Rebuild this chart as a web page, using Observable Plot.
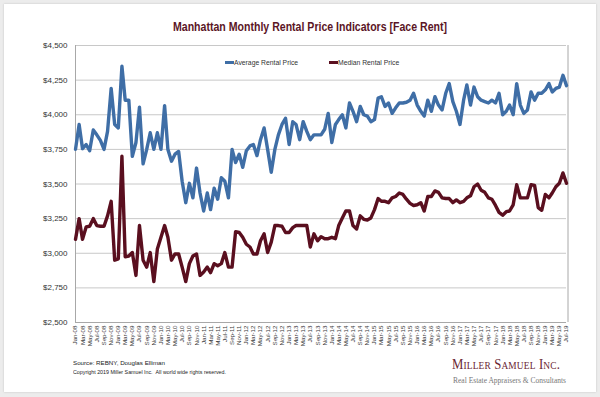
<!DOCTYPE html>
<html>
<head>
<meta charset="utf-8">
<script src="https://cdn.jsdelivr.net/npm/d3@7"></script>
<script src="https://cdn.jsdelivr.net/npm/@observablehq/plot@0.6"></script>
<style>
  html, body { margin: 0; padding: 0; background: #ececec; }
  #wrap { position: relative; width: 600px; height: 397px; background: #ececec; overflow: hidden;
          font-family: Arial, "Liberation Sans", Helvetica, sans-serif; }
  #card { position: absolute; left: 4px; top: 4px; width: 592px; height: 388px; background: #fff;
          box-shadow: 0 0 2px rgba(0,0,0,0.18); }
  #chart { position: absolute; left: 0; top: 0; }
  .fit { position: absolute; white-space: nowrap; transform-origin: 0 0; }
  #title { top: 20px; font-weight: bold; font-size: 12.5px; color: #5b1526; }
  .leg { position: absolute; top: 59px; font-size: 6.8px; color: #333; white-space: nowrap; }
  .leg i { display: inline-block; width: 9px; height: 2.8px; vertical-align: middle; margin-right: 0px; position: relative; top: -0.5px; }
  #src1, #src2 { font-size: 5.6px; color: #222; }
  #logo1 { font-family: "Liberation Serif", "DejaVu Serif", serif; color: #6b2733; font-size: 15px; font-variant: small-caps; letter-spacing: 0.2px; }
  #logo2 { font-family: "Liberation Serif", "DejaVu Serif", serif; color: #777; font-size: 8.6px; }
</style>
</head>
<body>
<div id="wrap">
  <div id="card"></div>
  <div id="chart"></div>
  <div id="title" class="fit">Manhattan Monthly Rental Price Indicators [Face Rent]</div>
  <div class="leg" style="left:225px"><i style="background:#3f6ea6"></i>Average Rental Price</div>
  <div class="leg" style="left:329px"><i style="background:#5a0f1f"></i>Median Rental Price</div>
  <div id="src1" class="fit">Source: REBNY, Douglas Elliman</div>
  <div id="src2" class="fit">Copyright 2019 Miller Samuel Inc.&nbsp;&nbsp;All world wide rights reserved.</div>
  <div id="logo1" class="fit">Miller Samuel Inc.</div>
  <div id="logo2" class="fit">Real Estate Appraisers &amp; Consultants</div>
</div>
<script>
// ---- Data (monthly, Jan-08 .. Jul-19) ----
const startMonth = "2008-01";
const monthCount = 139;

const averageRent = [
  3750, 3930, 3755, 3785, 3740, 3890, 3855, 3815, 3750, 3880,
  4190, 3930, 3905, 4350, 4105, 4105, 3700, 3800, 4055, 3645,
  3750, 3870, 3750, 3870, 3750, 4065, 3750, 3665, 3715, 3735,
  3520, 3365, 3505, 3400, 3615, 3435, 3305, 3435, 3315, 3470,
  3390, 3545, 3520, 3400, 3750, 3655, 3715, 3620, 3740, 3775,
  3785, 3705, 3820, 3905, 3750, 3585, 3750, 3855, 3930, 3975,
  3785, 3950, 3930, 3820, 3950, 3880, 3820, 3855, 3855, 3855,
  3895, 4010, 3800, 3930, 3965, 4000, 3905, 4085, 4025, 3950,
  4060, 4000, 3990, 3950, 3965, 4120, 4130, 4060, 4085, 4010,
  4050, 4085, 4085, 4090, 4105, 4155, 4070, 4025, 3990, 4105,
  4025, 4130, 4070, 4035, 4155, 4225, 4095, 4025, 3930, 4105,
  4215, 4070, 4200, 4130, 4105, 4095, 4085, 4105, 4085, 4155,
  4000, 4025, 4070, 4000, 4225, 4070, 4010, 4035, 4165, 4105,
  4155, 4155, 4180, 4225, 4165, 4190, 4200, 4285, 4210
];

const medianRent = [
  3100, 3250, 3100, 3190, 3195, 3250, 3200, 3195, 3195, 3270,
  3375, 2950, 2960, 3700, 2975, 2980, 3005, 2840, 3200, 2950,
  2900, 3005, 2795, 3030, 3115, 3200, 3115, 2950, 2995, 2995,
  2900, 2795, 2925, 2980, 2995, 2840, 2865, 2900, 2860, 2925,
  2910, 2925, 3005, 2900, 2900, 3155, 3150, 3115, 3065, 3045,
  2995, 2995, 3090, 3140, 3005, 3080, 3200, 3200, 3195, 3150,
  3150, 3185, 3200, 3200, 3200, 3200, 3045, 3140, 3090, 3120,
  3105, 3105, 3115, 3105, 3200, 3255, 3305, 3305, 3200, 3175,
  3270, 3245, 3240, 3255, 3315, 3395, 3375, 3375, 3365, 3400,
  3410, 3435, 3425, 3390, 3360, 3345, 3350, 3365, 3305, 3410,
  3410, 3450, 3440, 3400, 3395, 3395, 3365, 3385, 3365, 3375,
  3400, 3415, 3480, 3500, 3455, 3440, 3400, 3390, 3345, 3295,
  3275, 3300, 3305, 3350, 3495, 3400, 3400, 3400, 3495, 3490,
  3330, 3310, 3425, 3400, 3435, 3480, 3505, 3580, 3505
];

const yTicks = [2500, 2750, 3000, 3250, 3500, 3750, 4000, 4250, 4500];
const seriesNames = ["Average Rental Price", "Median Rental Price"];
const seriesColors = ["#3f6ea6", "#5a0f1f"];

// ---- Build table ----
const t0 = d3.utcParse("%Y-%m")(startMonth);
const months = d3.range(monthCount).map(i => d3.utcMonth.offset(t0, i));
const rows = [];
months.forEach((d, i) => {
  rows.push({date: d, value: averageRent[i], series: seriesNames[0]});
  rows.push({date: d, value: medianRent[i], series: seriesNames[1]});
});
const xTicks = months.filter((d, i) => i % 2 === 0);
const last = months[months.length - 1];

const chart = Plot.plot({
  width: 600,
  height: 397,
  marginLeft: 75,
  marginRight: 34,
  marginTop: 45,
  marginBottom: 75,
  style: {background: "transparent", fontFamily: "Arial, 'Liberation Sans', sans-serif", overflow: "visible"},
  x: {type: "utc", domain: [months[0], last]},
  y: {domain: [2500, 4500]},
  color: {domain: seriesNames, range: seriesColors},
  marks: [
    Plot.ruleY(yTicks, {stroke: "#c8c8c8", strokeWidth: 1}),
    Plot.ruleX([months[0]], {stroke: "#a8a8a8", strokeWidth: 1}),
    Plot.ruleX([last], {stroke: "#a8a8a8", strokeWidth: 1, dx: 1.5}),
    Plot.ruleY([2500], {stroke: "#a8a8a8", strokeWidth: 1}),
    Plot.axisY({ticks: yTicks, tickSize: 0, tickPadding: 8, fontSize: 8, fill: "#333",
                tickFormat: d => "$" + d3.format(",")(d), label: null}),
    Plot.axisX({ticks: xTicks, tickSize: 0, tickPadding: 3, tickRotate: -90, fontSize: 6.2, fill: "#3a3a3a",
                tickFormat: d3.utcFormat("%b-%y"), label: null}),
    Plot.lineY(rows, {x: "date", y: "value", z: "series", stroke: "series", strokeWidth: 3.4,
                      strokeLinejoin: "round", strokeLinecap: "round"})
  ]
});
document.getElementById("chart").appendChild(chart);

// ---- Fit overlay texts to their measured spans ----
function place(id, left, top, targetWidth) {
  const el = document.getElementById(id);
  el.style.left = left + "px";
  el.style.top = top + "px";
  const w = el.getBoundingClientRect().width;
  if (targetWidth && w > 0) el.style.transform = `scaleX(${targetWidth / w})`;
}
place("title", 173, 20, 274);
place("src1", 73, 360, 92);
place("src2", 73, 369, 153);
place("logo1", 452, 356, 108);
place("logo2", 453, 375, 113);
</script>
</body>
</html>
